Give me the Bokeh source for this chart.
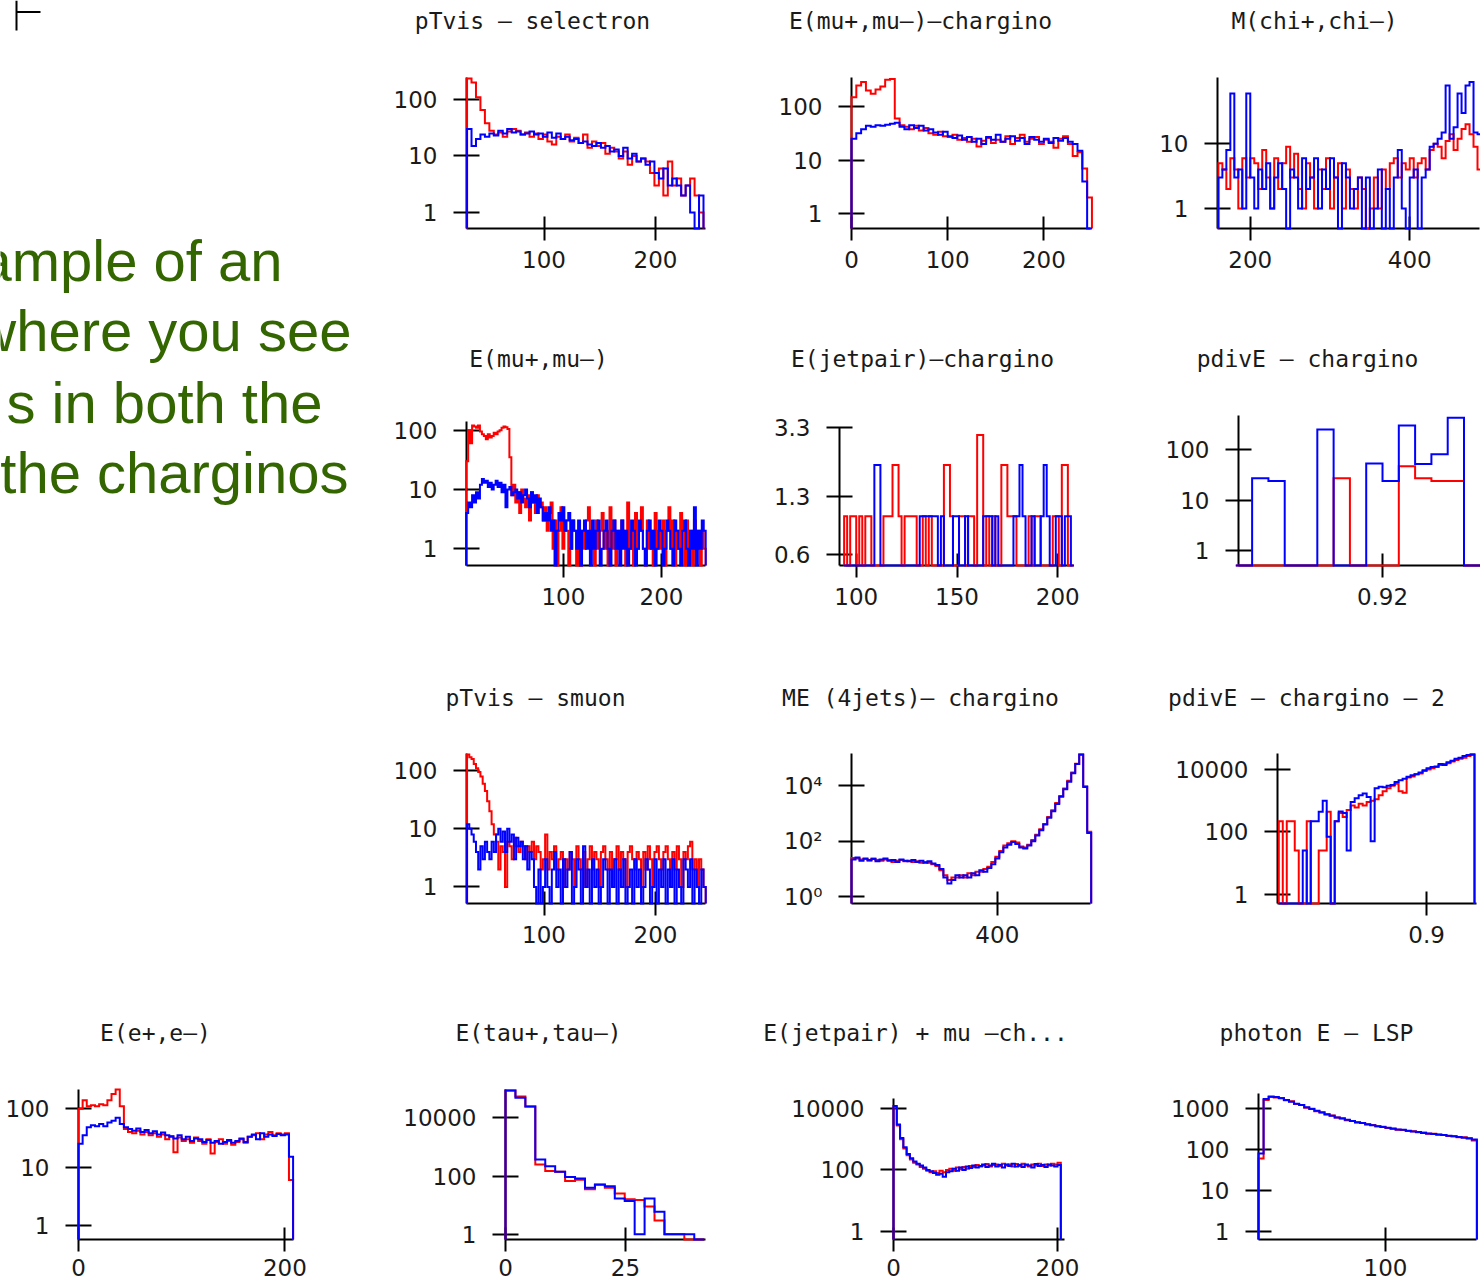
from bokeh.plotting import figure
from bokeh.layouts import row, column
from bokeh.models import FixedTicker, Range1d
from bokeh.embed import file_html
from bokeh.resources import INLINE
from bokeh.core.properties import value

# ---------------- data ----------------
TEXT_LINES = ["ample of an", "where you see", "s in both the", "the charginos"]

TITLES = ["pTvis – selectron", "E(mu+,mu–)–chargino", "M(chi+,chi–)",
          "E(mu+,mu–)", "E(jetpair)–chargino", "pdivE – chargino",
          "pTvis – smuon", "ME (4jets)– chargino", "pdivE – chargino – 2",
          "E(e+,e–)", "E(tau+,tau–)", "E(jetpair) + mu –ch...", "photon E – LSP"]

# pTvis - selectron : bins start 31, width 4
SEL_BINS = (31, 4)
SEL_RED = [236,200,110,65,38,28,24,26,22,27, 30,28,24,26,22,25,20,24,18,16,
           22,20,24,18,21,17,24,14,18,15, 17,11,14,12,9,12,7,10,8,9,
           8,5,3,6,2,8,3,4,2,3, 4,2,1]
SEL_BLUE = [30,15,20,24,22,25,23,28,25,30, 26,27,24,25,27,24,25,22,26,21,
            25,20,22,19,20,17,18,16,15,17, 14,15,12,13,10,14,9,11,8,9,
            7,8,5,4,6,3,4,3,2,3, 1,0,2]

# E(mu+,mu-)-chargino : start 0, width 5
MUCH_BINS = (0, 5)
MUCH_RED = [150,250,290,200,175,210,240,320,330,60, 45,42,38,44,36,40,32,30,34,28,
            27,30,24,26,22,25,18,23,26,21, 24,22,28,20,26,30,22,25,27,20,
            24,22,17,25,28,20,12,14,7,2]
MUCH_BLUE = [25,32,38,44,42,45,44,46,48,50, 42,38,45,40,44,36,38,33,30,34,
             28,26,29,24,27,22,25,20,27,24, 30,22,25,28,23,26,20,27,24,22,
             25,21,26,23,26,22,20,15,4,0]

# M(chi+,chi-) : start 160, width 5
CHI_BINS = (160, 5)
CHI_RED = [5,4,2,6,4,1,6,3,6,5, 2,8,3,1,6,2,5,9,3,7, 2,1,5,3,1,4,2,6,1,3,
           5,1,4,2,1,3,2,0,1,3, 1,4,2,5,6,3,5,4,6,3, 5,6,4,8,10,9,6,11,14,8,
           12,17,20,14,9,4]
CHI_BLUE = [3,4,8,60,3,4,1,60,3,1, 4,2,5,1,3,5,2,0,4,3, 1,6,2,3,6,1,4,2,6,3,
            0,5,3,1,2,3,0,3,0,1, 4,0,2,0,3,8,1,0,3,4, 0,3,4,9,10,12,15,80,12,18,
            60,30,80,90,15,14]

# E(mu+,mu-) : start 1, width 2
MUMU_BINS = (1, 2)
MUMU_RED = [30,100,60,120,115,110,120,95,85,80, 70,85,75,80,90,85,95,100,110,115,
            112,105,35,8,12,6,9,4,10,7, 5,8,3,9,6,4,8,5,6,3,
            5,2,4,6,1,3,0,2,5,1, 3,2,0,1,3,2,0,1,0,2,
            1,3,5,1,2,0,3,1,2,4, 1,2,0,5,1,3,0,2,1,3,
            2,0,6,1,2,0,4,1,2,5, 1,0,3,1,2,0,4,1,2,1,
            3,0,2,5,1,3,0,2,1,4, 2,0,3,1,2,0,3,1,2,0,
            2,1]
MUMU_BLUE = [4,6,5,8,6,9,7,12,15,13, 14,11,13,10,12,14,11,13,9,12,
             5,10,11,8,9,10,7,9,6,8, 10,7,5,9,6,8,4,7,5,3,
             4,3,5,2,3,0,2,4,3,5, 2,3,4,1,3,2,1,3,0,2,
             3,1,2,0,3,1,2,3,0,1, 2,3,1,0,2,3,1,2,0,3,
             1,2,0,1,3,2,0,1,3,2, 1,0,2,3,1,2,0,1,3,2,
             0,1,3,2,1,0,3,2,1,0, 2,3,1,0,2,1,5,0,2,1,
             3,2]

# E(jetpair)-chargino : start 94, width 1.5
JP_BINS = (94, 1.5)
JP_RED = [1,0,1,1,0,1,0,1,1,0, 0,0,0,1,1,1,2,2,1,0, 1,1,1,1,0,0,1,0,1,0,
          0,0,0,2,2,1,0,0,1,1, 0,1,1,0,3,3,0,1,0,1, 0,0,2,2,1,1,1,0,0,0,
          0,1,0,1,1,0,0,0,0,1, 1,0,2,2,0,0]
JP_BLUE = [0,0,0,0,0,0,0,0,0,0, 2,2,0,0,0,0,0,0,0,0, 0,0,0,0,0,1,1,1,1,1,
           1,0,1,0,0,0,1,1,0,0, 1,0,0,0,0,0,1,1,1,0, 1,0,0,0,0,0,1,1,2,1,
           0,0,1,0,0,1,2,1,0,0, 1,1,0,1,1,0]

# pdivE - chargino : start 0.8975, width 0.0025
PDIV_BINS = (0.8975, 0.0025)
PDIV_RED = [0,0,0,0,0,0,27,0,0,0,47,27,24,24,0]
PDIV_BLUE = [0,27,24,0,0,250,0,0,53,24,300,52,81,428,0]

# pTvis - smuon : start 31, width 2
SMU_BINS = (31, 2)
SMU_RED = [190,170,160,130,110,95,80,60,45,30, 20,12,8,6,2,5,4,1,6,5,
           3,7,5,4,6,5,3,5,4,6, 3,5,4,2,3,8,2,4,3,5,
           2,3,4,1,3,2,4,3,1,5, 3,2,4,1,3,5,2,4,3,1,
           4,5,3,2,4,1,3,5,2,4, 3,1,4,5,3,2,4,3,1,4,
           2,5,3,1,4,5,3,2,4,5, 3,1,4,2,5,3,1,4,3,5,
           6,2,3,1,3,2,1]
SMU_BLUE = [12,10,8,6,4,2,5,3,6,4, 3,6,4,8,10,6,9,4,10,6,
            8,3,7,5,6,3,5,2,4,3, 1,0,2,0,1,3,1,0,2,4,
            1,2,0,3,1,2,4,0,1,3, 2,0,5,1,2,0,3,1,2,0,
            1,3,2,0,2,1,3,0,2,1, 3,0,1,2,0,3,1,2,0,1,
            3,2,0,1,3,0,2,1,3,0, 2,1,3,0,2,1,0,3,2,1,
            3,0,2,1,0,2,1]

# ME (4jets) - chargino : start 254, width 4
ME_BINS = (254, 4)
ME_RED = [25,24,22,23,20,24,21,20,22,21, 18,20,21,19,20,18,19,17,18,17,
          15,13,9,6,4,5,5,6,5,7, 6,8,8,10,12,18,28,45,70,85,
          100,90,65,60,75,110,170,270,420,750, 1300,2400,4300,8000,15000,30000,62000,135000,9500,220]
ME_BLUE = [22,26,20,24,21,23,19,22,24,20, 21,18,22,20,19,21,18,20,17,19,
           16,14,10,5,3,4,6,5,6,5, 7,6,9,8,11,15,24,40,60,75,
           95,80,60,55,70,100,160,250,400,700, 1200,2200,4000,7500,14000,28000,60000,130000,9000,200]

# pdivE - chargino - 2 : start 0.863, width 0.001
PDIV2_BINS = (0.863, 0.001)
PDIV2_RED = [220,0,220,220,25,0,0,220,0,0, 25,25,440,0,220,400,300,500,700,600,
             800,700,900,1000,1100,1500,2000,2500,3000,3500, 2000,1800,5500,6000,7000,7500,9000,10000,11000,12000,
             14000,15000,16000,18000,20000,22000,24000,27000,29000]
PDIV2_BLUE = [0,0,0,0,0,0,25,0,220,220, 440,1000,70,0,220,450,400,25,900,1200,
              1500,1700,1300,50,2500,2800,2700,3000,3200,4000, 4500,5000,5800,6500,7000,8000,9500,11000,12000,12500,
              15000,14000,17000,19000,22000,24000,27000,29000,31000]

# E(e+,e-) : start 0, width 4
EE_BINS = (0, 4)
EE_RED = [100,140,110,115,110,120,115,140,180,215, 110,45,40,38,42,36,40,35,38,33,
          36,30,34,18,32,28,30,26,32,28, 25,30,17,27,30,25,28,24,27,30,
          26,33,35,38,30,36,40,35,38,36, 38,6]
EE_BLUE = [25,35,48,52,50,55,50,58,62,70, 55,48,45,42,46,40,43,38,41,36,
           39,35,33,31,35,30,33,28,31,30, 27,29,26,28,25,27,29,26,28,31,
           27,33,36,30,38,33,36,34,37,35, 36,15]

# E(tau+,tau-) : start 0, width 2.07
TAU_BINS = (0, 2.07)
TAU_RED = [89000,55000,25000,250,150,140,68,75,35,50, 40,25,16,15,9,3,1,1,0,0]
TAU_BLUE = [89000,50000,25000,370,220,140,94,83,40,52, 45,17,14,1,17,6,1,1,1,0]

# E(jetpair) + mu - chargino : start 0, width 4
JPMU_BINS = (0, 4)
JPMU_RED = [11000,2800,1000,500,300,220,170,150,125,110, 95,85,90,80,95,85,100,110,95,120,
            105,125,110,135,125,145,130,140,155,130, 145,150,135,160,140,150,130,155,135,160,
            140,130,150,140,160,135,150,140,160,150, 170]
JPMU_BLUE = [12000,3000,1100,550,330,240,190,160,140,120, 100,90,80,70,75,60,85,90,110,95,
             120,100,130,115,140,120,135,150,125,140, 160,130,145,120,150,135,160,130,145,125,
             150,140,120,155,135,145,125,150,140,130, 145]

# photon E - LSP : start 0, width 4
PHOT_BINS = (0, 4)
PHOT_RED = [60,1600,1900,1850,1780,1580,1480,1280,1200,1040, 980,850,800,710,670,600,575,515,495,455,
            440,405,395,365,355,330,325,300,298,280, 278,262,258,242,240,228,225,212,210,198,
            197,185,165]
PHOT_BLUE = [80,1700,1950,1900,1750,1600,1450,1300,1200,1060, 960,880,790,720,660,600,565,525,490,460,
             440,410,390,365,350,335,320,305,300,285, 275,265,250,245,238,230,225,215,208,200,
             192,188,175]

# tick values / labels
XT_SEL = [100, 200];       YT_DEC3 = [1, 10, 100];   YL_DEC3 = ["1", "10", "100"]
XT_MUCH = [0, 100, 200]
XT_CHI = [200, 400];       YT_CHI = [1, 10];         YL_CHI = ["1", "10"]
XT_JP = [100, 150, 200];   YT_JP = [0.6, 1.3, 3.3];  YL_JP = ["0.6", "1.3", "3.3"]
XT_PDIV = [0.92]
XT_ME = [400];             YT_ME = [1, 100, 10000];  YL_ME = ["10⁰", "10²", "10⁴"]
XT_PDIV2 = [0.9];          YT_BIG = [1, 100, 10000]; YL_BIG = ["1", "100", "10000"]
XT_EE = [0, 200]
XT_TAU = [0, 25]
XT_JPMU = [0, 200]
XT_PHOT = [100];           YT_PHOT = [1, 10, 100, 1000]; YL_PHOT = ["1", "10", "100", "1000"]

# ---------------- layout / style ----------------
RED = "#ff0000"
BLUE = "#0000ff"
INK = "#1a1a1a"
GREEN = "#336600"
COL_W = [375, 375, 370, 360]
ROW_H = [335, 335, 340, 274]
TITLE_Y = [20, 23, 27, 22]      # title centre, px from the top of each row
TICK_FONT = "23px"
TITLE_FONT = "23px"


def hist_path(bins, vals, floor):
    start, width = bins
    xs, ys = [start], [floor]
    for i, v in enumerate(vals):
        x0 = start + i * width
        y = v if v > 0 else floor
        xs += [x0, x0 + width]
        ys += [y, y]
    xs.append(start + len(vals) * width)
    ys.append(floor)
    return xs, ys


def blank(w, h):
    f = figure(width=w, height=h, x_range=Range1d(0, w), y_range=Range1d(h, 0),
               output_backend="svg", toolbar_location=None, title=None,
               x_axis_type=None, y_axis_type=None, min_border=0)
    f.frame_align = False
    f.outline_line_color = None
    f.grid.visible = False
    f.background_fill_color = "white"
    f.border_fill_color = "white"
    return f


def panel(r, c, title, borders, xr, yr, xt, yt, yl, bins, red, blue, tcx):
    L, R, T, B = borders
    W, H = COL_W[c], ROW_H[r]
    th = 2 * TITLE_Y[r]
    # title strip
    tf = blank(W, th)
    tf.text(x=[tcx], y=[TITLE_Y[r]], text=[title], text_align="center", text_baseline="middle",
            text_font=value("DejaVu Sans Mono"), text_font_size=TITLE_FONT, text_color=INK)
    # histogram plot
    p = figure(width=W, height=H - th, x_range=Range1d(*xr), y_range=Range1d(*yr),
               y_axis_type="log", output_backend="svg", toolbar_location=None, title=None,
               min_border_left=L, min_border_right=R, min_border_top=T - th, min_border_bottom=B)
    p.frame_align = False
    p.xgrid.visible = False
    p.ygrid.visible = False
    p.outline_line_color = None
    p.background_fill_color = "white"
    p.border_fill_color = "white"
    for ax in (p.xaxis[0], p.yaxis[0]):
        ax.axis_line_width = 2
        ax.axis_line_color = "black"
        ax.major_tick_line_width = 2
        ax.major_tick_line_color = "black"
        ax.minor_tick_line_color = None
        ax.major_label_text_font = "DejaVu Sans"
        ax.major_label_text_font_size = TICK_FONT
        ax.major_label_text_color = INK
    p.xaxis.major_tick_in = 12
    p.xaxis.major_tick_out = 12
    p.xaxis.major_label_standoff = 10 if r < 3 else 7
    p.yaxis.major_tick_in = 13
    p.yaxis.major_tick_out = 13
    p.yaxis.major_label_standoff = 16
    p.xaxis.ticker = FixedTicker(ticks=xt)
    p.yaxis.ticker = FixedTicker(ticks=yt)
    p.yaxis.major_label_overrides = {t: l for t, l in zip(yt, yl)}
    floor = yr[0]
    for vals, col in ((red, RED), (blue, BLUE)):
        xs, ys = hist_path(bins, vals, floor)
        p.line(xs, ys, line_color=col, line_width=2, line_join="miter", level="overlay")
    return column(tf, p, spacing=0)


P = {}
P[(0, 1)] = panel(0, 1, TITLES[0], (91, 45, 77, 107), (30.5, 244.8), (0.52, 245), XT_SEL, YT_DEC3, YL_DEC3,
                  SEL_BINS, SEL_RED, SEL_BLUE, 157)
P[(0, 2)] = panel(0, 2, TITLES[1], (101, 30, 77, 107), (0, 248.5), (0.525, 352), XT_MUCH, YT_DEC3, YL_DEC3,
                  MUCH_BINS, MUCH_RED, MUCH_BLUE, 170)
P[(0, 3)] = panel(0, 3, TITLES[2], (97, 1, 77, 107), (158.9, 487.5), (0.49, 106), XT_CHI, YT_CHI, YL_CHI,
                  CHI_BINS, CHI_RED, CHI_BLUE, 194)
P[(1, 1)] = panel(1, 1, TITLES[3], (91, 45, 86, 105), (1.3, 244.8), (0.52, 140), XT_SEL, YT_DEC3, YL_DEC3,
                  MUMU_BINS, MUMU_RED, MUMU_BLUE, 163)
P[(1, 2)] = panel(1, 2, TITLES[4], (89, 48, 92, 105), (91.7, 207.3), (0.515, 3.32), XT_JP, YT_JP, YL_JP,
                  JP_BINS, JP_RED, JP_BLUE, 172)
P[(1, 3)] = panel(1, 3, TITLES[5], (118, 0, 80, 105), (0.89791, 0.93503), (0.507, 473), XT_PDIV, YT_DEC3, YL_DEC3,
                  PDIV_BINS, PDIV_RED, PDIV_BLUE, 187)
P[(2, 1)] = panel(2, 1, TITLES[6], (91, 45, 83, 107), (30.5, 244.8), (0.52, 198), XT_SEL, YT_DEC3, YL_DEC3,
                  SMU_BINS, SMU_RED, SMU_BLUE, 160)
P[(2, 2)] = panel(2, 2, TITLES[7], (101, 30, 83, 107), (254, 493.3), (0.575, 144500), XT_ME, YT_ME, YL_ME,
                  ME_BINS, ME_RED, ME_BLUE, 170)
P[(2, 3)] = panel(2, 3, TITLES[8], (157, 4, 83, 107), (0.86268, 0.9125), (0.5, 32600), XT_PDIV2, YT_BIG, YL_BIG,
                  PDIV2_BINS, PDIV2_RED, PDIV2_BLUE, 186)
P[(3, 0)] = panel(3, 0, TITLES[9], (78, 82, 79, 45), (0, 208.4), (0.57, 214), XT_EE, YT_DEC3, YL_DEC3,
                  EE_BINS, EE_RED, EE_BLUE, 155)
P[(3, 1)] = panel(3, 1, TITLES[10], (130, 45, 79, 45), (0, 41.67), (0.66, 95500), XT_TAU, YT_BIG, YL_BIG,
                  TAU_BINS, TAU_RED, TAU_BLUE, 163)
P[(3, 2)] = panel(3, 2, TITLES[11], (143, 56, 88, 45), (0, 208.5), (0.55, 21000), XT_JPMU, YT_BIG, YL_BIG,
                  JPMU_BINS, JPMU_RED, JPMU_BLUE, 165)
P[(3, 3)] = panel(3, 3, TITLES[12], (138, 4, 83, 45), (0, 171.7), (0.64, 2300), XT_PHOT, YT_PHOT, YL_PHOT,
                  PHOT_BINS, PHOT_RED, PHOT_BLUE, 196)

# text area (cropped slide text on the left)
TH = ROW_H[0] + ROW_H[1] + ROW_H[2]
t = blank(COL_W[0], TH)
t.text(x=[282, 351, 322, 348], y=[260, 330, 402, 472], text=TEXT_LINES,
       text_align="right", text_baseline="alphabetic",
       text_font=value("Liberation Sans"), text_font_size="58px", text_color=GREEN)
t.segment(x0=[16, 16], y0=[0, 11.5], x1=[16, 40], y1=[30, 11.5], line_color="black", line_width=2)

layout = row(
    column(t, P[(3, 0)], spacing=0),
    column(P[(0, 1)], P[(1, 1)], P[(2, 1)], P[(3, 1)], spacing=0),
    column(P[(0, 2)], P[(1, 2)], P[(2, 2)], P[(3, 2)], spacing=0),
    column(P[(0, 3)], P[(1, 3)], P[(2, 3)], P[(3, 3)], spacing=0),
    spacing=0,
)

open("out.html", "w").write(file_html(layout, INLINE))
